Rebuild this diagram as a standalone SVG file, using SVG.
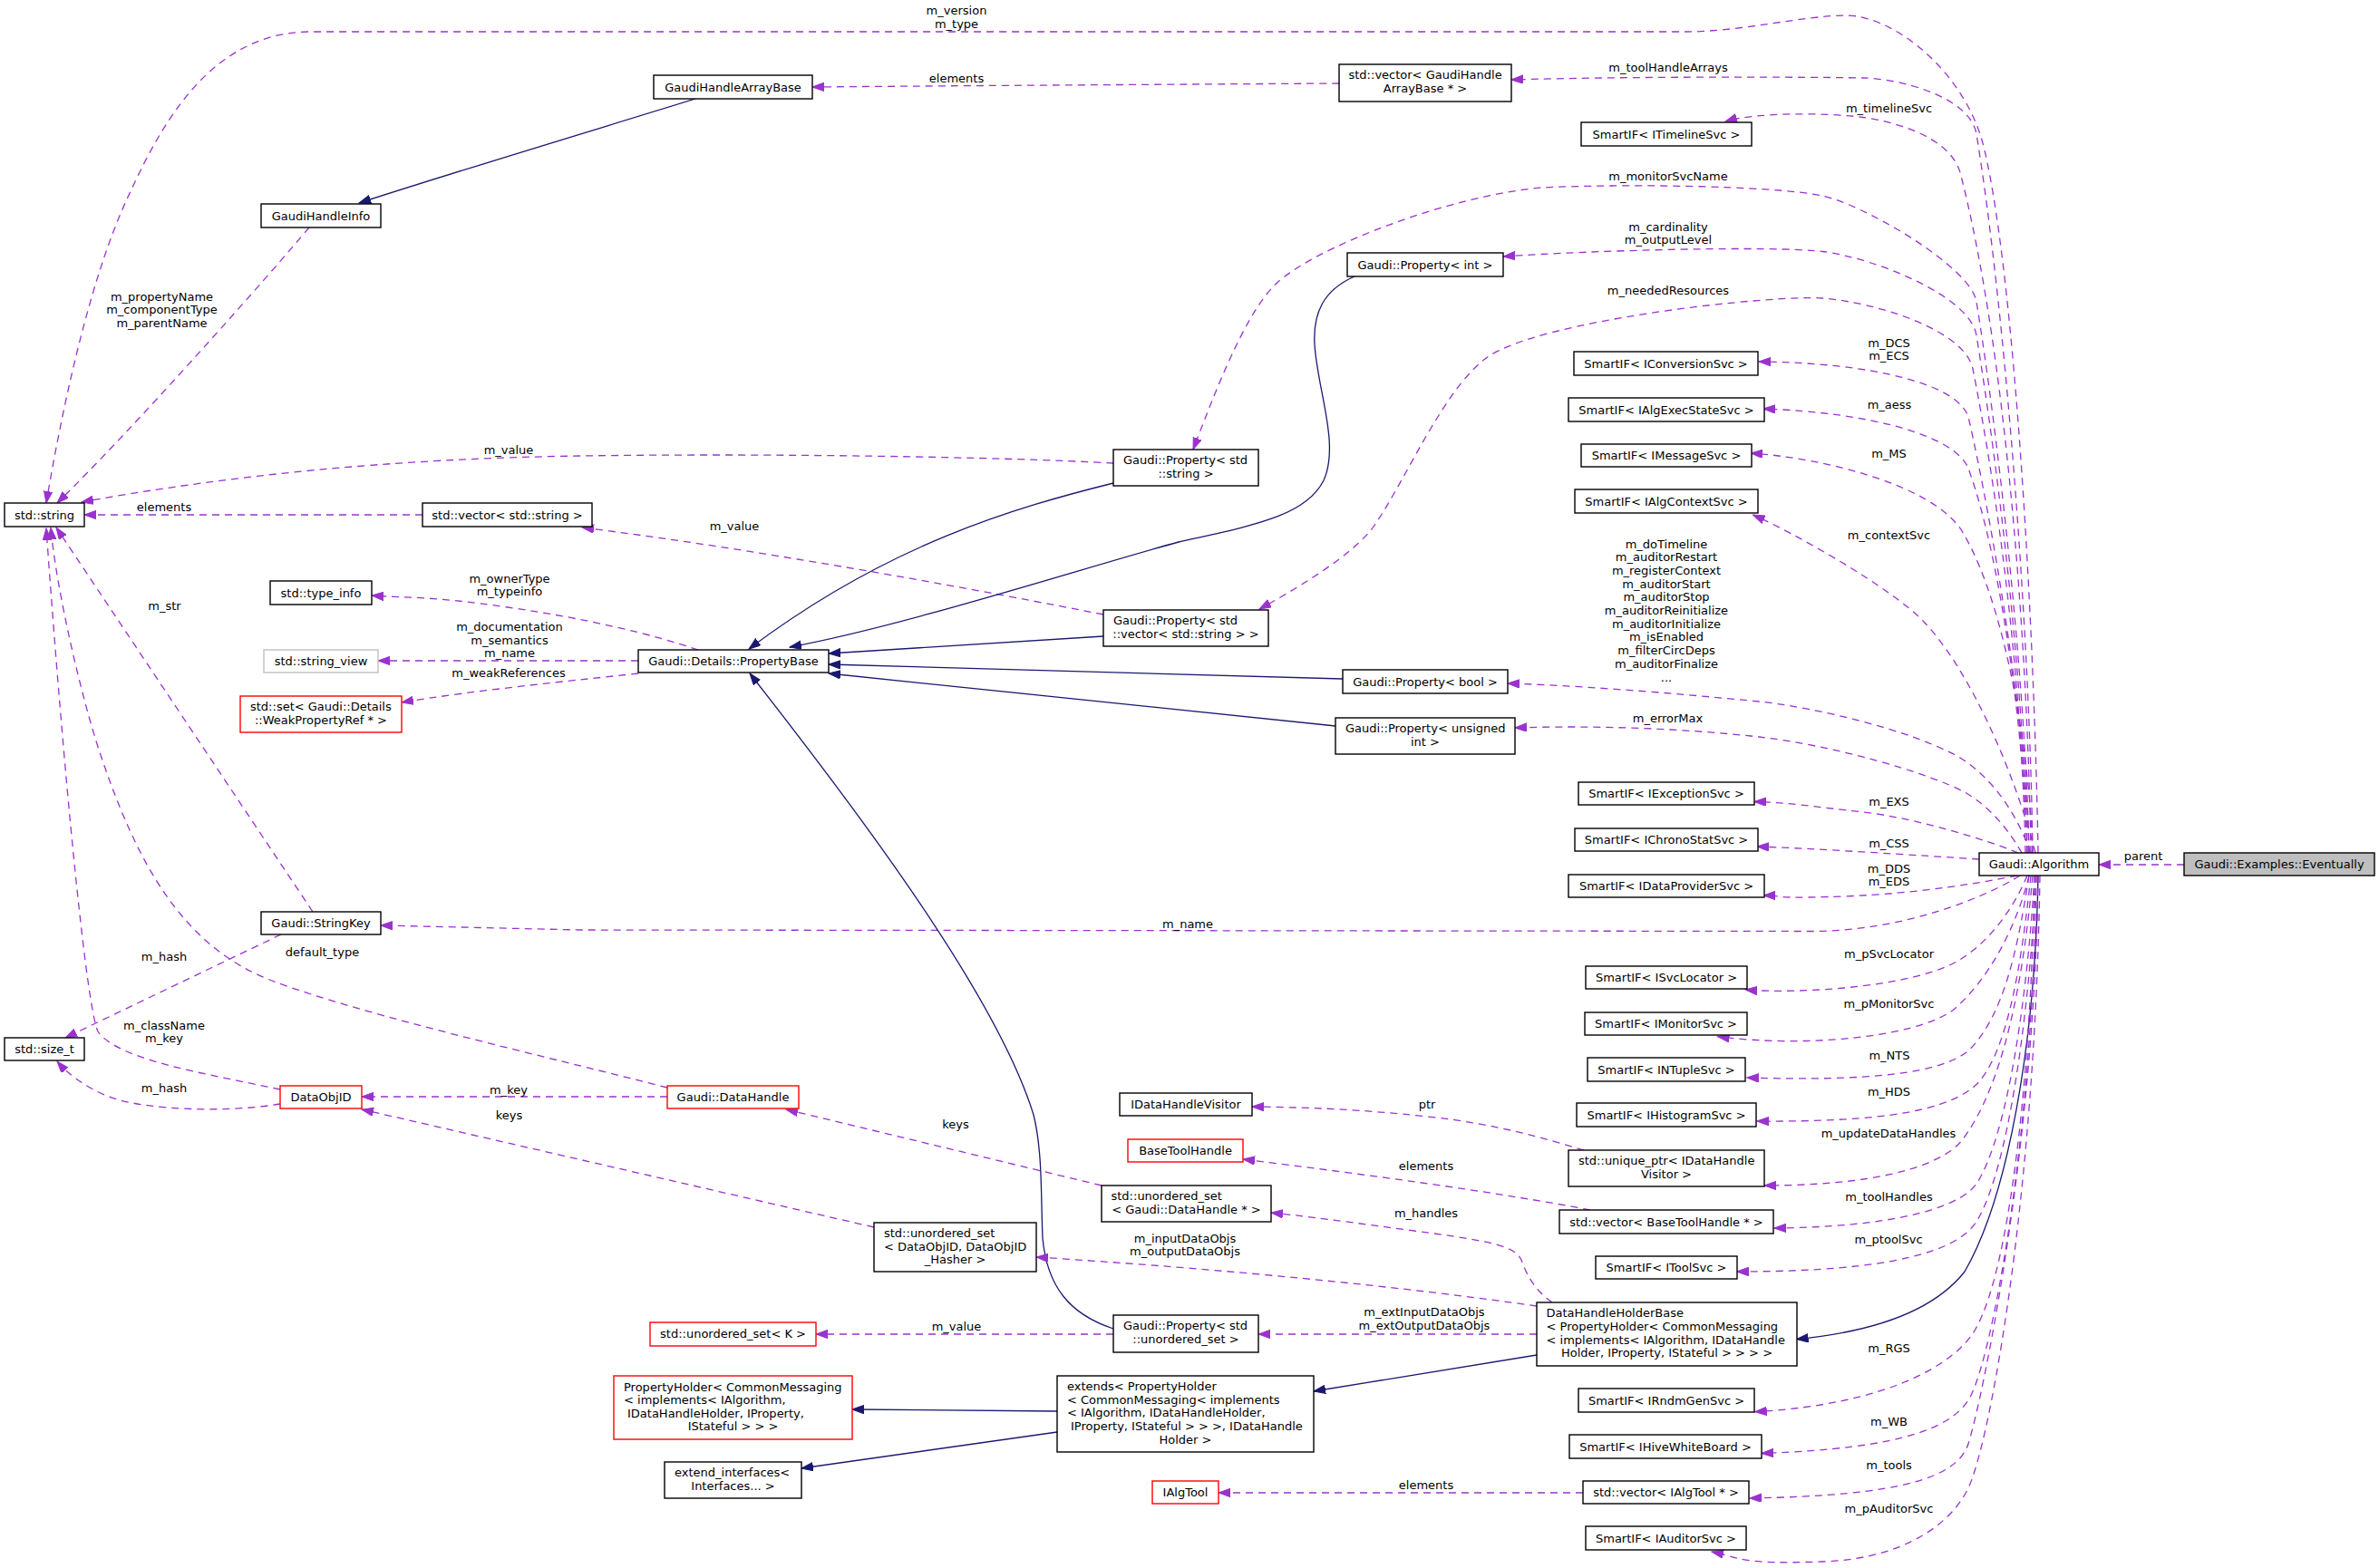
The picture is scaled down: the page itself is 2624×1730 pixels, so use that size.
<svg xmlns="http://www.w3.org/2000/svg" width="2624" height="1730" viewBox="0 0 2624 1730">
<style>
text{font-family:"DejaVu Sans","Liberation Sans",sans-serif;font-size:13px;fill:#000}
.c{text-anchor:middle}
.n rect{fill:#fff;stroke:#000;stroke-width:1.4}
.r rect{fill:#fff;stroke:#f00;stroke-width:1.4}
.g rect{fill:#fff;stroke:#bfbfbf;stroke-width:1.4}
.d{fill:none;stroke:#9a32cd;stroke-width:1.3;stroke-dasharray:8,6;marker-end:url(#ap)}
.b{fill:none;stroke:#191970;stroke-width:1.3;marker-end:url(#ab)}
</style>
<defs>
<marker id="ap" markerUnits="userSpaceOnUse" markerWidth="14" markerHeight="10" refX="13" refY="4.7" orient="auto"><path d="M0,0 L13,4.7 L0,9.4 z" fill="#9a32cd" stroke="#9a32cd" stroke-width="1"/></marker>
<marker id="ab" markerUnits="userSpaceOnUse" markerWidth="14" markerHeight="10" refX="13" refY="4.7" orient="auto"><path d="M0,0 L13,4.7 L0,9.4 z" fill="#191970" stroke="#191970" stroke-width="1"/></marker>
</defs>
<rect width="2624" height="1730" fill="#fff"/>
<g id="connectors">
<path class="d" d="M2248,941 C2244,700 2223,312 2189,166 C2169,78 2087,17 2037,17 C1990,17 1920,35 1860,35 L340,35 C230,37 176,140 139,222 C97.5,313 67.6,456 51,555"/>
<path class="d" d="M2242,941 C2239,700 2212,345 2180,148 C2173.6,108.5 2100,87 2055,86 S1800,84 1667,88"/>
<path class="d" d="M2240,941 C2236,700 2212,386 2162.5,192 C2152.6,153 2095,135 2055,129.5 S1935,124 1903,134"/>
<path class="d" d="M2238,941 C2234,750 2204,481 2180,333 C2173.6,293.5 2053.6,225 2010,216 C1951.8,204 1780,203 1701,207 C1602,215 1448.6,272.5 1406,314.5 C1370.5,349.5 1334,449 1316,496"/>
<path class="d" d="M2236,941 C2232,750 2204,518 2180,370 C2172.8,325.6 2064.5,284 2010,277.5 S1760,276 1658,283"/>
<path class="d" d="M2234,941 C2230,750 2205,554 2176,407 C2167,363 2065,333 2010,329 C1955,325 1693,353 1638,396 C1590.6,432.6 1549.9,530.8 1515.7,580 C1493,612.8 1424,653 1389,672"/>
<path class="d" d="M2238,941 C2235,800 2198,579 2171.5,462 C2162.7,423 2060,400 1940,399"/>
<path class="d" d="M2236,941 C2232,800 2205.5,612 2171.5,518 C2158,480 2060,455 1945,451"/>
<path class="d" d="M2242,941 C2240,850 2215.7,673 2164.7,587 C2134,535.4 2010,505 1931,500"/>
<path class="d" d="M2245,941 C2225,863 2177,744 2122,686 C2087.8,649.6 1979,588 1933.5,568"/>
<path class="d" d="M2240,941 C2225,900 2200,860 2162,836 C2110,806 2000,780 1940,774 S1760,757 1663,754"/>
<path class="d" d="M2230,941 C2215,915 2195,890 2167,874 C2125,852 2020,822 1940,813 S1760,800 1671,803"/>
<path class="d" d="M2226,941 C2190,926 2110,902 2055,896 S1970,885 1935,884.5"/>
<path class="d" d="M2183,948 C2120,944 2000,936 1938,934"/>
<path class="d" d="M2225,966 C2195,972 2120,986 2032,989 S1975,988 1945,988"/>
<path class="d" d="M2228,966 C2190,990 2100,1027 2000,1027.5 L640,1026 L420,1021"/>
<path class="d" d="M2236,966 C2222,1000 2195,1040 2158,1061 C2110,1088 1990,1097 1925,1092"/>
<path class="d" d="M2238,966 C2225,1020 2195,1080 2153.5,1115 C2110,1145 1990,1156 1894.5,1143.6"/>
<path class="d" d="M2238,966 C2225,1050 2210,1120 2171.5,1159 C2140,1185 2060,1193 1926.7,1189"/>
<path class="d" d="M2240,966 C2230,1060 2215,1160 2180.5,1196 C2150,1225 2080,1238 1938,1237"/>
<path class="d" d="M2242,966 C2232,1080 2210,1200 2162.5,1260 C2135,1290 2060,1308 1946,1308"/>
<path class="d" d="M2244,966 C2236,1100 2215,1250 2180.5,1305.5 C2160,1335 2080,1354 1957,1355"/>
<path class="d" d="M2246,966 C2238,1120 2215,1290 2180.5,1347 C2160,1380 2090,1403 1915.5,1403"/>
<path class="b" d="M2248,966 C2245,1150 2215,1320 2167,1403 C2130,1450 2060,1470 1981.5,1477.5"/>
<path class="d" d="M2244,966 C2240,1200 2215,1400 2180.5,1463.5 C2160,1505 2080,1550 1935.7,1557.6"/>
<path class="d" d="M2246,966 C2242,1250 2200,1480 2176,1535 C2160,1575 2100,1598 1943,1603.5"/>
<path class="d" d="M2248,966 C2245,1250 2190,1530 2171.5,1591.5 C2160,1630 2100,1650 1930,1653"/>
<path class="d" d="M2250,966 C2245,1300 2200,1560 2176,1629 C2160,1680 2100,1720 2010,1723 S1925,1720 1888,1712"/>
<path class="d" d="M2409,954 L2315,954"/>
<path class="d" d="M1477,92 C1300,93 1000,95 896,96"/>
<path class="b" d="M767,109 C700,130 500,190 396,224"/>
<path class="d" d="M341,251 C300,300 150,470 63,555"/>
<path class="d" d="M1228,511 C1100,504 850,500 640,503 S250,525 90,554"/>
<path class="d" d="M466,568 L93,568"/>
<path class="d" d="M1217,678 C1100,655 850,608 642,582"/>
<path class="b" d="M1228,533 C1120,560 980,600 826,716"/>
<path class="b" d="M1494,305 C1460,320 1448,345 1450,380 C1453,430 1478,490 1460,530 C1440,570 1380,580 1300,598 C1200,625 1000,690 871,714"/>
<path class="b" d="M1217,702 L914,721"/>
<path class="b" d="M1481,749 L914,733"/>
<path class="b" d="M1473,801 L914,743"/>
<path class="b" d="M1228,1466 C1180,1450 1155,1420 1150,1366 C1148,1320 1150,1270 1140,1230 C1100,1100 950,900 827,743"/>
<path class="d" d="M770,717 C720,700 650,683 560,670 S450,660 410,657"/>
<path class="d" d="M704,729 L417,729"/>
<path class="d" d="M704,743 C640,750 520,762 443,775"/>
<path class="d" d="M345,1006 L62,582"/>
<path class="d" d="M310,1031 L72,1145"/>
<path class="d" d="M736,1200 C600,1165 400,1120 300,1082 S150,950 110,830 C90,770 62,650 56,582"/>
<path class="d" d="M309,1202 C230,1185 130,1170 108,1138 C95,1110 70,850 51,583"/>
<path class="d" d="M309,1218 C250,1228 160,1225 120,1210 C95,1200 75,1185 63,1171"/>
<path class="d" d="M736,1210 L399,1210"/>
<path class="d" d="M964,1354 L399,1224"/>
<path class="d" d="M1215,1308 L867,1224"/>
<path class="d" d="M1747,1269 C1700,1255 1650,1240 1575,1232 S1450,1222 1381,1221"/>
<path class="d" d="M1754,1335 C1650,1315 1500,1295 1371,1279"/>
<path class="d" d="M1712,1437 C1695,1425 1685,1410 1678,1390 C1670,1375 1650,1370 1560,1358 S1450,1343 1402,1338"/>
<path class="d" d="M1695,1441 C1550,1420 1350,1400 1143,1387"/>
<path class="d" d="M1695,1472 L1388,1472"/>
<path class="d" d="M1228,1472 L900,1472"/>
<path class="b" d="M1695,1495 L1449,1535"/>
<path class="b" d="M1166,1557 L940,1555"/>
<path class="b" d="M1166,1580 L884,1620"/>
<path class="d" d="M1746,1647 L1344,1647"/>
<g class="c">
<text x="1055" y="16">m_version</text><text x="1055" y="31">m_type</text>
<text x="1840" y="78.5">m_toolHandleArrays</text>
<text x="2083.5" y="123.5">m_timelineSvc</text>
<text x="1840" y="198.5">m_monitorSvcName</text>
<text x="1840" y="254.5">m_cardinality</text><text x="1840" y="269">m_outputLevel</text>
<text x="1840" y="324.5">m_neededResources</text>
<text x="2083.5" y="383">m_DCS</text><text x="2083.5" y="397">m_ECS</text>
<text x="2084" y="451">m_aess</text>
<text x="2083.5" y="504.5">m_MS</text>
<text x="2083.5" y="595">m_contextSvc</text>
<text x="1838" y="604.5">m_doTimeline</text>
<text x="1838" y="619.2">m_auditorRestart</text>
<text x="1838" y="633.9">m_registerContext</text>
<text x="1838" y="648.6">m_auditorStart</text>
<text x="1838" y="663.3">m_auditorStop</text>
<text x="1838" y="678">m_auditorReinitialize</text>
<text x="1838" y="692.7">m_auditorInitialize</text>
<text x="1838" y="707.4">m_isEnabled</text>
<text x="1838" y="722.1">m_filterCircDeps</text>
<text x="1838" y="736.8">m_auditorFinalize</text>
<text x="1838" y="751.5">...</text>
<text x="1839.5" y="796.5">m_errorMax</text>
<text x="2083.5" y="888.5">m_EXS</text>
<text x="2083.5" y="935">m_CSS</text>
<text x="2083.5" y="962.5">m_DDS</text><text x="2083.5" y="977">m_EDS</text>
<text x="1310" y="1023.5">m_name</text>
<text x="2083.5" y="1057">m_pSvcLocator</text>
<text x="2083.5" y="1112">m_pMonitorSvc</text>
<text x="2084" y="1169">m_NTS</text>
<text x="2083.5" y="1208.5">m_HDS</text>
<text x="2083" y="1254.5">m_updateDataHandles</text>
<text x="2083.5" y="1325">m_toolHandles</text>
<text x="2083" y="1371.5">m_ptoolSvc</text>
<text x="2083.5" y="1491.5">m_RGS</text>
<text x="2083.5" y="1572.5">m_WB</text>
<text x="2083.5" y="1620.5">m_tools</text>
<text x="2083.5" y="1668.5">m_pAuditorSvc</text>
<text x="2364" y="949">parent</text>
<text x="1055" y="90.5">elements</text>
<text x="178.5" y="331.5">m_propertyName</text><text x="178.5" y="346.2">m_componentType</text><text x="178.5" y="360.9">m_parentName</text>
<text x="561" y="500.5">m_value</text>
<text x="181" y="563.5">elements</text>
<text x="810" y="584.5">m_value</text>
<text x="562" y="643">m_ownerType</text><text x="562" y="657">m_typeinfo</text>
<text x="562" y="695.5">m_documentation</text><text x="562" y="710.5">m_semantics</text><text x="562" y="725">m_name</text>
<text x="561" y="746.5">m_weakReferences</text>
<text x="181.5" y="672.5">m_str</text>
<text x="181" y="1060">m_hash</text>
<text x="355.5" y="1054.5">default_type</text>
<text x="181" y="1135.5">m_className</text><text x="181" y="1150">m_key</text>
<text x="181" y="1204.5">m_hash</text>
<text x="561" y="1207">m_key</text>
<text x="561.5" y="1234.5">keys</text>
<text x="1054" y="1245">keys</text>
<text x="1574" y="1222.5">ptr</text>
<text x="1573" y="1290.5">elements</text>
<text x="1573" y="1343">m_handles</text>
<text x="1307" y="1370.5">m_inputDataObjs</text><text x="1307" y="1385">m_outputDataObjs</text>
<text x="1571" y="1452">m_extInputDataObjs</text><text x="1571" y="1467">m_extOutputDataObjs</text>
<text x="1055" y="1467.5">m_value</text>
<text x="1573" y="1643">elements</text>
</g>
</g>
<g id="n1" class="n"><rect x="5" y="555" width="88" height="26"/><text class="c" x="49" y="572.5">std::string</text></g>
<g id="n2" class="n"><rect x="288" y="225" width="132" height="26"/><text class="c" x="354" y="242.5">GaudiHandleInfo</text></g>
<g id="n3" class="n"><rect x="721" y="83" width="175" height="26"/><text class="c" x="808.5" y="100.5">GaudiHandleArrayBase</text></g>
<g id="n4" class="n"><rect x="1477" y="71" width="190" height="41"/><text x="1487.5" y="87">std::vector&lt; GaudiHandle</text><text class="c" x="1572" y="101.8">ArrayBase * &gt;</text></g>
<g id="n5" class="n"><rect x="1744" y="135" width="188" height="26"/><text class="c" x="1838" y="152.5">SmartIF&lt; ITimelineSvc &gt;</text></g>
<g id="n6" class="n"><rect x="1486" y="279" width="172" height="26"/><text class="c" x="1572" y="296.5">Gaudi::Property&lt; int &gt;</text></g>
<g id="n7" class="n"><rect x="1228" y="496" width="160" height="40"/><text x="1239" y="512">Gaudi::Property&lt; std</text><text class="c" x="1308" y="527">::string &gt;</text></g>
<g id="n8" class="n"><rect x="1736" y="388" width="203" height="26"/><text class="c" x="1837.5" y="405.5">SmartIF&lt; IConversionSvc &gt;</text></g>
<g id="n9" class="n"><rect x="1730" y="439" width="216" height="26"/><text class="c" x="1838" y="456.5">SmartIF&lt; IAlgExecStateSvc &gt;</text></g>
<g id="n10" class="n"><rect x="1744" y="490" width="188" height="25"/><text class="c" x="1838" y="507">SmartIF&lt; IMessageSvc &gt;</text></g>
<g id="n11" class="n"><rect x="1737" y="540" width="202" height="26"/><text class="c" x="1838" y="557.5">SmartIF&lt; IAlgContextSvc &gt;</text></g>
<g id="n12" class="n"><rect x="1217" y="673" width="182" height="40"/><text x="1228" y="689">Gaudi::Property&lt; std</text><text class="c" x="1308" y="704">::vector&lt; std::string &gt; &gt;</text></g>
<g id="n13" class="n"><rect x="704" y="717" width="210" height="25"/><text class="c" x="809" y="734">Gaudi::Details::PropertyBase</text></g>
<g id="n14" class="n"><rect x="466" y="555" width="187" height="26"/><text class="c" x="559.5" y="572.5">std::vector&lt; std::string &gt;</text></g>
<g id="n15" class="n"><rect x="298" y="641" width="112" height="26"/><text class="c" x="354" y="658.5">std::type_info</text></g>
<g id="n16" class="g"><rect x="291" y="717" width="126" height="25"/><text class="c" x="354" y="734">std::string_view</text></g>
<g id="n17" class="r"><rect x="265" y="768" width="178" height="40"/><text x="276" y="784">std::set&lt; Gaudi::Details</text><text class="c" x="354" y="799">::WeakPropertyRef * &gt;</text></g>
<g id="n18" class="n"><rect x="1481" y="739" width="182" height="26"/><text class="c" x="1572" y="756.5">Gaudi::Property&lt; bool &gt;</text></g>
<g id="n19" class="n"><rect x="1473" y="792" width="198" height="40"/><text x="1484" y="808">Gaudi::Property&lt; unsigned</text><text class="c" x="1572" y="823">int &gt;</text></g>
<g id="n20" class="n"><rect x="1741" y="863" width="194" height="25"/><text class="c" x="1838" y="880">SmartIF&lt; IExceptionSvc &gt;</text></g>
<g id="n21" class="n"><rect x="1737" y="914" width="202" height="25"/><text class="c" x="1838" y="931">SmartIF&lt; IChronoStatSvc &gt;</text></g>
<g id="n22" class="n"><rect x="1730" y="965" width="216" height="25"/><text class="c" x="1838" y="982">SmartIF&lt; IDataProviderSvc &gt;</text></g>
<g id="n23" class="n"><rect x="2183" y="941" width="132" height="25"/><text class="c" x="2249" y="958">Gaudi::Algorithm</text></g>
<g id="n24"><rect x="2409" y="941" width="210" height="25" fill="#bfbfbf" stroke="#000" stroke-width="1.4"/><text class="c" x="2514" y="958">Gaudi::Examples::Eventually</text></g>
<g id="n25" class="n"><rect x="288" y="1006" width="132" height="25"/><text class="c" x="354" y="1023">Gaudi::StringKey</text></g>
<g id="n26" class="n"><rect x="1749" y="1066" width="178" height="25"/><text class="c" x="1838" y="1083">SmartIF&lt; ISvcLocator &gt;</text></g>
<g id="n27" class="n"><rect x="1748" y="1117" width="179" height="25"/><text class="c" x="1837.5" y="1134">SmartIF&lt; IMonitorSvc &gt;</text></g>
<g id="n28" class="n"><rect x="5" y="1145" width="88" height="25"/><text class="c" x="49" y="1162">std::size_t</text></g>
<g id="n29" class="r"><rect x="309" y="1198" width="90" height="25"/><text class="c" x="354" y="1215">DataObjID</text></g>
<g id="n30" class="r"><rect x="736" y="1198" width="145" height="25"/><text class="c" x="808.5" y="1215">Gaudi::DataHandle</text></g>
<g id="n31" class="n"><rect x="1235" y="1206" width="146" height="25"/><text class="c" x="1308" y="1223">IDataHandleVisitor</text></g>
<g id="n32" class="r"><rect x="1244" y="1257" width="127" height="25"/><text class="c" x="1307.5" y="1274">BaseToolHandle</text></g>
<g id="n33" class="n"><rect x="1215" y="1308" width="187" height="40"/><text x="1225.5" y="1324">std::unordered_set</text><text class="c" x="1308.5" y="1339">&lt; Gaudi::DataHandle * &gt;</text></g>
<g id="n34" class="n"><rect x="964" y="1349" width="179" height="54"/><text x="975" y="1365">std::unordered_set</text><text x="975" y="1379.7">&lt; DataObjID, DataObjID</text><text class="c" x="1053.5" y="1394.4">_Hasher &gt;</text></g>
<g id="n35" class="n"><rect x="1730" y="1269" width="216" height="40"/><text x="1741" y="1285">std::unique_ptr&lt; IDataHandle</text><text class="c" x="1838" y="1300">Visitor &gt;</text></g>
<g id="n36" class="n"><rect x="1720" y="1335" width="236" height="26"/><text class="c" x="1838" y="1352.5">std::vector&lt; BaseToolHandle * &gt;</text></g>
<g id="n37" class="n"><rect x="1760" y="1386" width="156" height="25"/><text class="c" x="1838" y="1403">SmartIF&lt; IToolSvc &gt;</text></g>
<g id="n38" class="n"><rect x="1228" y="1451" width="160" height="41"/><text x="1239" y="1467">Gaudi::Property&lt; std</text><text class="c" x="1308" y="1482">::unordered_set &gt;</text></g>
<g id="n39" class="r"><rect x="717" y="1459" width="183" height="26"/><text class="c" x="808.5" y="1476">std::unordered_set&lt; K &gt;</text></g>
<g id="n40" class="n"><rect x="1695" y="1437" width="287" height="70"/><text x="1705.5" y="1453">DataHandleHolderBase</text><text x="1705.5" y="1467.8">&lt; PropertyHolder&lt; CommonMessaging</text><text x="1705.5" y="1482.5">&lt; implements&lt; IAlgorithm, IDataHandle</text><text class="c" x="1838.5" y="1497">Holder, IProperty, IStateful &gt; &gt; &gt; &gt;</text></g>
<g id="n41" class="n"><rect x="1751" y="1167" width="174" height="26"/><text class="c" x="1838" y="1184.5">SmartIF&lt; INTupleSvc &gt;</text></g>
<g id="n42" class="n"><rect x="1739" y="1217" width="198" height="26"/><text class="c" x="1838" y="1234.5">SmartIF&lt; IHistogramSvc &gt;</text></g>
<g id="n43" class="n"><rect x="1741" y="1532" width="194" height="26"/><text class="c" x="1838" y="1549.5">SmartIF&lt; IRndmGenSvc &gt;</text></g>
<g id="n44" class="n"><rect x="1731" y="1583" width="212" height="26"/><text class="c" x="1837" y="1600.5">SmartIF&lt; IHiveWhiteBoard &gt;</text></g>
<g id="n45" class="n"><rect x="1746" y="1634" width="183" height="25"/><text class="c" x="1837.5" y="1651">std::vector&lt; IAlgTool * &gt;</text></g>
<g id="n46" class="n"><rect x="1749" y="1684" width="177" height="26"/><text class="c" x="1837.5" y="1701.5">SmartIF&lt; IAuditorSvc &gt;</text></g>
<g id="n47" class="r"><rect x="1271" y="1634" width="73" height="25"/><text class="c" x="1307.5" y="1651">IAlgTool</text></g>
<g id="n48" class="n"><rect x="1166" y="1518" width="283" height="84"/><text x="1177" y="1534">extends&lt; PropertyHolder</text><text x="1177" y="1548.7">&lt; CommonMessaging&lt; implements</text><text x="1177" y="1563.4">&lt; IAlgorithm, IDataHandleHolder,</text><text x="1181" y="1578">IProperty, IStateful &gt; &gt; &gt;, IDataHandle</text><text class="c" x="1307.5" y="1592.8">Holder &gt;</text></g>
<g id="n49" class="r"><rect x="677" y="1518" width="263" height="70"/><text x="688" y="1534.5">PropertyHolder&lt; CommonMessaging</text><text x="688" y="1549">&lt; implements&lt; IAlgorithm,</text><text x="692" y="1563.7">IDataHandleHolder, IProperty,</text><text class="c" x="808.5" y="1578.4">IStateful &gt; &gt; &gt;</text></g>
<g id="n50" class="n"><rect x="733" y="1613" width="151" height="40"/><text x="744" y="1629">extend_interfaces&lt;</text><text class="c" x="808.5" y="1644">Interfaces... &gt;</text></g>
</svg>
